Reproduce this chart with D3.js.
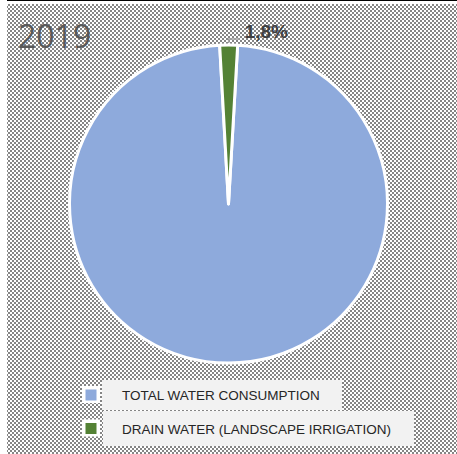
<!DOCTYPE html>
<html>
<head>
<meta charset="utf-8">
<script src="https://cdn.jsdelivr.net/npm/d3@7"></script>
<style>
  body { margin: 0; background: #fff; }
</style>
</head>
<body>
<script>
const categories = ['TOTAL WATER CONSUMPTION', 'DRAIN WATER (LANDSCAPE IRRIGATION)']
const values = [98.2, 1.8]
const labels = ['98,2%', '1,8%']
const colors = ['#8eaadc', '#548235']
const title = '2019'

const width = 457
const height = 454
const cx = 228.5
const cy = 204
const radius = 159

const svg = d3.select('body')
  .append('svg')
  .attr('width', width)
  .attr('height', height)

// checker background like the excel export
const defs = svg.append('defs')
const pat = defs.append('pattern')
  .attr('id', 'checker')
  .attr('width', 4)
  .attr('height', 4)
  .attr('patternUnits', 'userSpaceOnUse')
pat.append('rect').attr('width', 4).attr('height', 4).attr('fill', '#ffffff')
pat.append('rect').attr('width', 2).attr('height', 2).attr('fill', '#858585')
pat.append('rect').attr('x', 2).attr('y', 2).attr('width', 2).attr('height', 2).attr('fill', '#858585')

svg.append('rect')
  .attr('x', 7).attr('y', 4)
  .attr('width', width - 7).attr('height', height - 4)
  .attr('fill', 'url(#checker)')

svg.append('line')
  .attr('x1', 7).attr('x2', width)
  .attr('y1', 0.5).attr('y2', 0.5)
  .attr('stroke', '#000')

svg.append('text')
  .attr('x', 18)
  .attr('y', 48)
  .attr('font-family', 'Open Sans, sans-serif')
  .attr('font-weight', 400)
  .attr('font-size', 32)
  .attr('fill', '#595959')
  .text(title)

const start = 3.3 * Math.PI / 180
const pie = d3.pie().sort(null).startAngle(start).endAngle(start + 2 * Math.PI)
const arcs = pie(values)
const arc = d3.arc().innerRadius(0).outerRadius(radius)

const g = svg.append('g').attr('transform', `translate(${cx}, ${cy})`)

g.selectAll('path')
  .data(arcs)
  .enter()
  .append('path')
  .attr('d', arc)
  .attr('fill', (d, i) => colors[i])
  .attr('stroke', '#fff')
  .attr('stroke-width', 3)
  .attr('stroke-linejoin', 'round')

// label for small slice with leader line
const small = arcs[1]
const mid = (small.startAngle + small.endAngle) / 2
const p0 = [Math.sin(mid) * (radius + 2), -Math.cos(mid) * (radius + 2)]
const p1 = [p0[0], -radius - 6]
const p2 = [p0[0] + 11, -radius - 6]
g.append('polyline')
  .attr('points', [p0, p1, p2].map(p => p.join(',')).join(' '))
  .attr('fill', 'none')
  .attr('stroke', '#a6a6a6')
  .attr('stroke-width', 1.5)

g.append('text')
  .attr('x', p2[0] + 5)
  .attr('y', p2[1] - 1)
  .attr('font-family', 'Liberation Sans, Arial, sans-serif')
  .attr('font-weight', 'bold')
  .attr('font-size', 19)
  .attr('fill', '#404040')
  .text(labels[1])

// legend
const legend = [
  { x: 102, y: 380, w: 240, h: 30 },
  { x: 103, y: 411, w: 311, h: 35 }
]

const lg = svg.append('g')
  .selectAll('g')
  .data(categories)
  .enter()
  .append('g')

lg.append('rect')
  .attr('x', (d, i) => legend[i].x)
  .attr('y', (d, i) => legend[i].y)
  .attr('width', (d, i) => legend[i].w)
  .attr('height', (d, i) => legend[i].h)
  .attr('fill', '#f2f2f2')

lg.append('rect')
  .attr('x', 82)
  .attr('y', (d, i) => legend[i].y + legend[i].h / 2 - 9)
  .attr('width', 18)
  .attr('height', 17)
  .attr('fill', '#fff')

lg.append('rect')
  .attr('x', 85.5)
  .attr('y', (d, i) => legend[i].y + legend[i].h / 2 - 5.5)
  .attr('width', 11)
  .attr('height', 11)
  .attr('fill', (d, i) => colors[i])

lg.append('text')
  .attr('x', 122)
  .attr('y', (d, i) => legend[i].y + legend[i].h / 2 + 5)
  .attr('font-family', 'Liberation Sans, Arial, sans-serif')
  .attr('font-size', 13.5)
  .attr('fill', '#262626')
  .text(d => d)
</script>
</body>
</html>
